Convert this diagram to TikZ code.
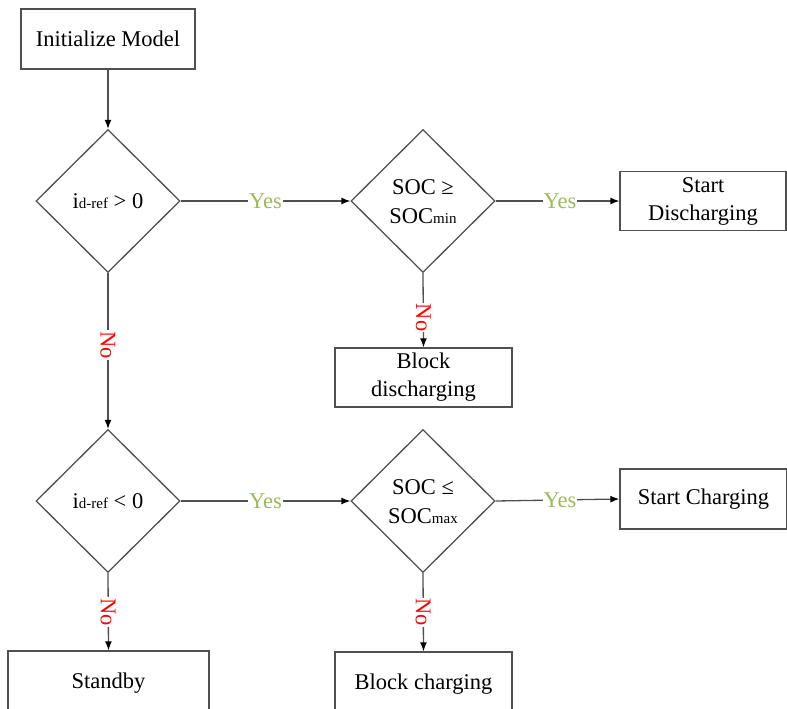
\documentclass[tikz,border=0pt]{standalone}
\usepackage{fontspec}
\setmainfont{Liberation Serif}
\usetikzlibrary{shapes.geometric,arrows.meta}
\definecolor{linegray}{HTML}{505050}
\definecolor{yesgreen}{HTML}{9BBB59}
\definecolor{nored}{HTML}{FF0000}
\newcommand{\smallsub}[1]{{\fontsize{15}{15}\selectfont #1}}
\tikzset{
  procbox/.style={draw=linegray, line width=1.3pt, rectangle, inner sep=0pt, align=center, text=black,
    font=\fontsize{22.5}{28}\selectfont},
  decision/.style={draw=linegray, line width=1.3pt, diamond, inner sep=0pt, minimum width=144pt, minimum height=143pt},
  dtext/.style={align=center, text=black, font=\fontsize{22.5}{29}\selectfont, inner sep=0pt},
  conn/.style={draw=linegray, line width=1.3pt, -{Latex[length=9pt,width=7pt,black]}},
  yeslbl/.style={fill=white, text=yesgreen, inner sep=1pt, font=\fontsize{22.5}{27}\selectfont},
  nolbl/.style={fill=white, text=nored, inner sep=1pt, rotate=-90, font=\fontsize{22.5}{27}\selectfont},
}
\begin{document}
\begin{tikzpicture}[x=1pt,y=-1pt]
\useasboundingbox (0,0) rectangle (787,709);
\clip (0,0) rectangle (787,709);
% nodes
\node[procbox, minimum width=174pt, minimum height=60pt] (init) at (108,39) {Initialize Model};
\node[decision] (d1) at (108,201) {};
\node[dtext] (d1t) at (108,201) {i\smallsub{d-ref} > 0};
\node[decision] (d2) at (423,201) {};
\node[dtext] (d2t) at (423,202) {SOC ≥\\SOC\smallsub{min}};
\node[procbox, minimum width=166pt, minimum height=59pt] (sdis) at (703,201) {Start\\Discharging};
\node[procbox, minimum width=177pt, minimum height=59pt] (bdis) at (423.5,377.5) {Block\\discharging};
\node[decision] (d3) at (108,501) {};
\node[dtext] (d3t) at (108,501) {i\smallsub{d-ref} < 0};
\node[decision] (d4) at (423,501) {};
\node[dtext] (d4t) at (423,502) {SOC ≤\\SOC\smallsub{max}};
\node[procbox, minimum width=167pt, minimum height=60pt] (schg) at (703.5,499) {Start Charging};
\node[procbox, minimum width=201pt, minimum height=64pt] (stby) at (108.5,683) {Standby};
\node[procbox, minimum width=177pt, minimum height=64pt] (bchg) at (423.5,684) {Block charging};
% connectors
\draw[conn] (init.south) -- (d1.north);
\draw[conn] (d1.east) -- node[yeslbl, pos=0.5] (y1) {Yes} (d2.west);
\draw[conn] (d2.east) -- node[yeslbl, pos=0.52] (y2) {Yes} (sdis.west);
\draw[conn] (d2.south) -- node[nolbl, pos=0.6] (n2) {No} (bdis.north);
\draw[conn] (d1.south) -- node[nolbl, pos=0.46] (n1) {No} (d3.north);
\draw[conn] (d3.east) -- node[yeslbl, pos=0.5] (y3) {Yes} (d4.west);
\draw[conn] (d4.east) -- node[yeslbl, pos=0.52] (y4) {Yes} (schg.west);
\draw[conn] (d3.south) -- node[nolbl, pos=0.5] (n3) {No} (stby.north);
\draw[conn] (d4.south) -- node[nolbl, pos=0.5] (n4) {No} (bchg.north);
\end{tikzpicture}
\end{document}
